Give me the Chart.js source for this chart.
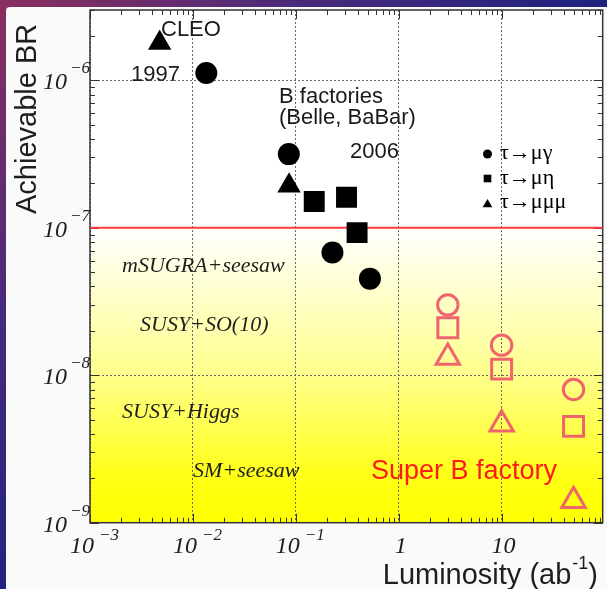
<!DOCTYPE html>
<html>
<head>
<meta charset="utf-8">
<script src="https://cdn.jsdelivr.net/npm/chart.js@4.4.0/dist/chart.umd.min.js"></script>
<style>
  html, body { margin: 0; padding: 0; }
  body {
    width: 607px; height: 589px; overflow: hidden; position: relative;
    background: radial-gradient(circle at 0 0, #8a2f5e 0%, #4a2a7a 35%, #1a2280 75%);
  }
  #panel { position: absolute; left: 6px; top: 7px; right: 0; bottom: 0; background: #fafafa; border-top-left-radius: 4px; }
  #wrap { position: absolute; left: 0; top: 0; width: 607px; height: 589px; }
</style>
</head>
<body>
<div id="panel"></div>
<div id="wrap"><canvas id="brChart"></canvas></div>
<script>
// measured upper limits (luminosity in ab^-1, branching ratio)
const muGammaLumi = [0.0135, 0.0855, 0.227, 0.525];
const muGammaBR   = [1.12e-6, 3.16e-7, 6.8e-8, 4.52e-8];
const muEtaLumi   = [0.151, 0.311, 0.394];
const muEtaBR     = [1.51e-7, 1.61e-7, 9.27e-8];
const muMuMuLumi  = [0.00475, 0.086];
const muMuMuBR    = [1.79e-6, 1.93e-7];

// Super B factory projections
const superBLumi    = [3, 10, 50];
const superBMuGamma = [3.0e-8, 1.6e-8, 8.0e-9];
const superBMuEta   = [2.1e-8, 1.1e-8, 4.5e-9];
const superBMuMuMu  = [1.32e-8, 4.65e-9, 1.41e-9];

const limitBR = 1e-7;
const limitLumi = [1e-4, 1e3];
const xRange = [1e-3, 96];
const yRange = [1e-9, 3e-6];
const xDecades = [1e-3, 1e-2, 1e-1, 1, 10];
const yDecades = [1e-9, 1e-8, 1e-7, 1e-6];
const xTickLabels = [['10', '\u22123'], ['10', '\u22122'], ['10', '\u22121'], ['1', ''], ['10', '']];
const yTickLabels = [['10', '\u22129'], ['10', '\u22128'], ['10', '\u22127'], ['10', '\u22126']];
const legendLabels = ['\u03c4\u2192\u03bc\u03b3', '\u03c4\u2192\u03bc\u03b7', '\u03c4\u2192\u03bc\u03bc\u03bc'];
const modelLabels = ['mSUGRA+seesaw', 'SUSY+SO(10)', 'SUSY+Higgs', 'SM+seesaw'];

const black = '#000000';
const pink = '#f0646e';
const serif = '"Liberation Serif", "DejaVu Serif", serif';
const sans = '"Liberation Sans", Arial, sans-serif';

function pts(xs, ys) {
  return xs.map((x, i) => ({ x: x, y: ys[i] }));
}

function decadeTicks(decades, range) {
  const out = [];
  decades.forEach(d => {
    for (let k = 1; k <= 9; k++) {
      const v = d * k;
      if (v >= range[0] * 0.999 && v <= range[1]) out.push({ v: v, major: k === 1 });
    }
  });
  return out;
}

// value^exp style label: base text plus raised exponent
function drawPow(ctx, base, exp, x, y, opts) {
  ctx.font = 'italic ' + opts.size + 'px ' + serif;
  const wb = ctx.measureText(base).width;
  ctx.font = 'italic ' + opts.supSize + 'px ' + serif;
  const we = exp ? ctx.measureText(exp).width : 0;
  const total = wb + (exp ? opts.gap + we : 0);
  let x0 = x;
  if (opts.align === 'center') x0 = x - total / 2;
  else if (opts.align === 'right') x0 = x - total;
  else if (opts.align === 'base') x0 = x - opts.lead;
  ctx.textAlign = 'left';
  ctx.textBaseline = 'alphabetic';
  ctx.font = 'italic ' + opts.size + 'px ' + serif;
  ctx.fillText(base, x0, y);
  if (exp) {
    ctx.font = 'italic ' + opts.supSize + 'px ' + serif;
    ctx.fillText(exp, x0 + wb + opts.gap, y - opts.rise);
  }
}

const backdrop = {
  id: 'backdrop',
  beforeDraw(chart) {
    const { ctx, chartArea: a, scales: { y } } = chart;
    const top = y.getPixelForValue(limitBR);
    const g = ctx.createLinearGradient(0, top, 0, a.bottom);
    g.addColorStop(0, '#ffffff');
    g.addColorStop(0.5, '#ffff8c');
    g.addColorStop(0.85, '#ffff14');
    g.addColorStop(1, '#ffff00');
    ctx.save();
    ctx.fillStyle = '#ffffff';
    ctx.fillRect(a.left, a.top, a.right - a.left, top - a.top);
    ctx.fillStyle = g;
    ctx.fillRect(a.left, top, a.right - a.left, a.bottom - top);
    ctx.restore();
  },
  // frame and inward ticks on all four sides, under the data
  beforeDatasetsDraw(chart) {
    const { ctx, chartArea: a, scales: { x, y } } = chart;
    ctx.save();
    ctx.strokeStyle = '#333333';
    ctx.lineWidth = 1.5;
    ctx.strokeRect(a.left, a.top, a.right - a.left, a.bottom - a.top);
    ctx.lineWidth = 1;
    ctx.beginPath();
    decadeTicks(xDecades, xRange).forEach(t => {
      const px = Math.round(x.getPixelForValue(t.v)) + 0.5;
      const len = t.major ? 9 : 5;
      ctx.moveTo(px, a.bottom); ctx.lineTo(px, a.bottom - len);
      ctx.moveTo(px, a.top); ctx.lineTo(px, a.top + len);
    });
    decadeTicks(yDecades, yRange).forEach(t => {
      const py = Math.round(y.getPixelForValue(t.v)) + 0.5;
      const len = t.major ? 9 : 5;
      ctx.moveTo(a.left, py); ctx.lineTo(a.left + len, py);
      ctx.moveTo(a.right, py); ctx.lineTo(a.right - len, py);
    });
    ctx.stroke();
    ctx.restore();
  }
};

const decorations = {
  id: 'decorations',
  afterDraw(chart) {
    const { ctx, scales: { x, y } } = chart;
    ctx.save();

    // tick labels
    ctx.fillStyle = '#1e1e1e';
    xDecades.forEach((v, i) => {
      const px = x.getPixelForValue(v);
      const [b, e] = xTickLabels[i];
      if (e) drawPow(ctx, b, e, px, 553, { size: 24, supSize: 17, gap: 5, rise: 13, align: 'base', lead: 20 });
      else drawPow(ctx, b, e, px + 2, 553, { size: 24, supSize: 17, gap: 0, rise: 0, align: 'center' });
    });
    yDecades.forEach((v, i) => {
      const py = y.getPixelForValue(v);
      const [b, e] = yTickLabels[i];
      drawPow(ctx, b, e, 43, py + 9, { size: 24, supSize: 17, gap: 3, rise: 16, align: 'left' });
    });

    // axis titles
    ctx.fillStyle = '#1e1e1e';
    ctx.font = '29px ' + sans;
    ctx.textBaseline = 'alphabetic';
    ctx.save();
    ctx.translate(36, 214);
    ctx.rotate(-Math.PI / 2);
    ctx.textAlign = 'left';
    ctx.fillText('Achievable BR', 0, 0);
    ctx.restore();

    ctx.font = '29px ' + sans;
    const w1 = ctx.measureText('Luminosity (ab').width;
    const w3 = ctx.measureText(')').width;
    ctx.font = '18px ' + sans;
    const w2 = ctx.measureText('-1').width;
    let lx = 598 - (w1 + w2 + w3 + 1);
    ctx.textAlign = 'left';
    ctx.font = '29px ' + sans;
    ctx.fillText('Luminosity (ab', lx, 584);
    ctx.font = '18px ' + sans;
    ctx.fillText('-1', lx + w1 + 1, 569);
    ctx.font = '29px ' + sans;
    ctx.fillText(')', lx + w1 + w2 + 1, 584);

    // experiment annotations
    ctx.fillStyle = '#1a1a1a';
    ctx.font = '22px ' + sans;
    ctx.fillText('CLEO', 161, 36);
    ctx.fillText('1997', 131, 81);
    ctx.fillText('B factories', 279, 103);
    ctx.fillText('(Belle, BaBar)', 279, 124);
    ctx.fillText('2006', 350, 158);

    ctx.fillStyle = '#ff1a1a';
    ctx.font = '27px ' + sans;
    ctx.fillText('Super B factory', 371, 479);

    // model predictions
    ctx.fillStyle = '#1e1e1e';
    ctx.font = 'italic 22px ' + serif;
    ctx.fillText(modelLabels[0], 122, 272);
    ctx.fillText(modelLabels[1], 140, 331);
    ctx.fillText(modelLabels[2], 122, 418);
    ctx.fillText(modelLabels[3], 193, 477);

    // legend
    const styles = [['circle', 4.5], ['rect', 5.4], ['triangle', 5.6]];
    styles.forEach((s, i) => {
      const cy = 154 + i * 24.5;
      ctx.fillStyle = black;
      ctx.strokeStyle = black;
      Chart.helpers.drawPoint(ctx, { pointStyle: s[0], radius: s[1], rotation: 0, borderWidth: 0 }, 487.5, s[0] === 'triangle' ? cy + 1.5 : cy);
      ctx.font = '22px ' + serif;
      ctx.fillText(legendLabels[i], 500, cy + 5);
    });

    ctx.restore();
  }
};

const ctx = document.getElementById('brChart').getContext('2d');
new Chart(ctx, {
  type: 'scatter',
  data: {
    datasets: [
      { label: legendLabels[0], data: pts(muGammaLumi, muGammaBR), pointStyle: 'circle', pointRadius: 11,
        backgroundColor: black, borderColor: black, borderWidth: 0 },
      { label: legendLabels[1], data: pts(muEtaLumi, muEtaBR), pointStyle: 'rect', pointRadius: 14.8,
        backgroundColor: black, borderColor: black, borderWidth: 0 },
      { label: legendLabels[2], data: pts(muMuMuLumi, muMuMuBR), pointStyle: 'triangle', pointRadius: 13.5,
        backgroundColor: black, borderColor: black, borderWidth: 0 },
      { label: 'Super B ' + legendLabels[0], data: pts(superBLumi, superBMuGamma), pointStyle: 'circle', pointRadius: 10.2,
        backgroundColor: 'rgba(0,0,0,0)', borderColor: pink, borderWidth: 3 },
      { label: 'Super B ' + legendLabels[1], data: pts(superBLumi, superBMuEta), pointStyle: 'rect', pointRadius: 14.1,
        backgroundColor: 'rgba(0,0,0,0)', borderColor: pink, borderWidth: 3 },
      { label: 'Super B ' + legendLabels[2], data: pts(superBLumi, superBMuMuMu), pointStyle: 'triangle', pointRadius: 13.5,
        backgroundColor: 'rgba(0,0,0,0)', borderColor: pink, borderWidth: 3 },
      // horizontal reach line, clipped to the plot area
      { label: 'limit', data: pts(limitLumi, [limitBR, limitBR]), showLine: true, pointRadius: 0,
        borderColor: '#ff3b3b', borderWidth: 2, order: 10, clip: 0 }
    ]
  },
  options: {
    responsive: true,
    maintainAspectRatio: false,
    animation: false,
    events: [],
    layout: { autoPadding: false, padding: { left: 0, top: 10, right: 4.3, bottom: 0 } },
    plugins: { legend: { display: false }, tooltip: { enabled: false } },
    scales: {
      x: {
        type: 'logarithmic',
        min: xRange[0],
        max: xRange[1],
        afterBuildTicks: s => { s.ticks = xDecades.map(v => ({ value: v, major: true })); },
        afterFit: s => { s.height = 66.3; },
        ticks: { display: false },
        grid: { color: '#6a6a6a', lineWidth: 1, drawTicks: false },
        border: { display: false, dash: [2, 2] }
      },
      y: {
        type: 'logarithmic',
        min: yRange[0],
        max: yRange[1],
        afterBuildTicks: s => { s.ticks = yDecades.map(v => ({ value: v, major: true })); },
        afterFit: s => { s.width = 90; },
        ticks: { display: false },
        grid: { color: '#6a6a6a', lineWidth: 1, drawTicks: false },
        border: { display: false, dash: [2, 2] }
      }
    }
  },
  plugins: [backdrop, decorations]
});
</script>
</body>
</html>
